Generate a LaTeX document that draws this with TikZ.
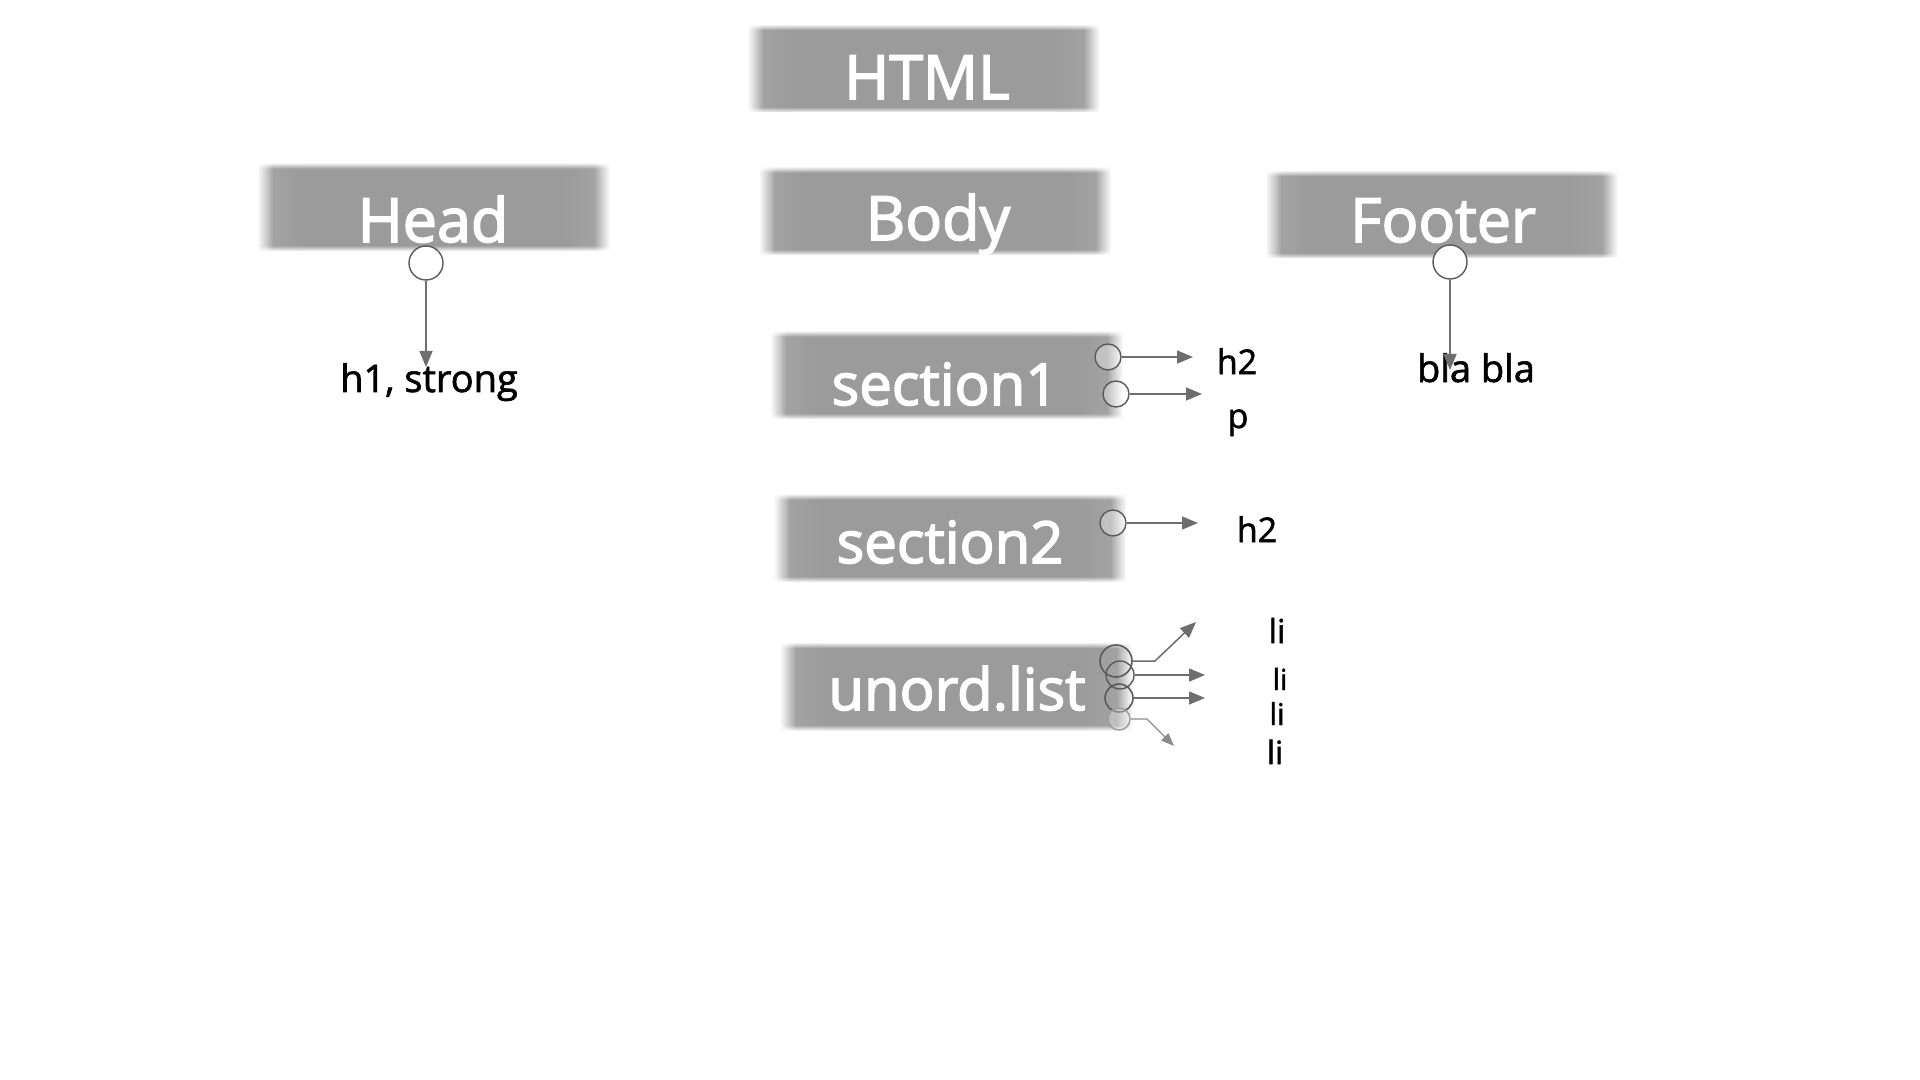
\documentclass[tikz,border=0pt]{standalone}
\usepackage{fontspec}
\setmainfont{Open Sans}
\newfontfamily\boxfont{Open Sans}[FakeBold=2.6]
\newfontfamily\tagfont{Open Sans}[FakeBold=1.6]
\usetikzlibrary{arrows.meta,fadings}
\tikzfading[name=myfaderight, left color=transparent!0, right color=transparent!100]
\tikzfading[name=myfadeleft, left color=transparent!100, right color=transparent!0]
\tikzfading[name=myfadedown, top color=transparent!0, bottom color=transparent!100]
\tikzfading[name=myfadeup, top color=transparent!100, bottom color=transparent!0]
\definecolor{boxgray}{HTML}{9B9B9B}
\definecolor{linegray}{HTML}{6E6E6E}
\definecolor{ringgray}{HTML}{5A5A5A}
\tikzset{
  boxbase/.style={rectangle, fill=boxgray, draw=none, inner sep=0pt,
    minimum width=176pt, minimum height=44pt},
  boxlabel/.style={anchor=base, text=white, inner sep=0pt,
    font=\boxfont\fontsize{30.5pt}{36pt}\selectfont},
  seclabel/.style={anchor=base, text=white, inner sep=0pt,
    font=\boxfont\fontsize{29pt}{34pt}\selectfont},
  tag/.style={anchor=base, text=black, inner sep=0pt},
  ring/.style={circle, draw=ringgray, line width=0.7pt, inner sep=0pt},
  conn/.style={draw=linegray, line width=0.75pt,
    -{Triangle[length=8pt,width=6.5pt]}},
}
\newcommand\softbox[3]{%
  \node[boxbase] (#1) at (#2,#3) {};
  \fill[white, path fading=myfaderight] (#1.north west) rectangle ([xshift=8pt]#1.south west);
  \fill[white, opacity=0.12, path fading=myfaderight] (#1.north west) rectangle ([xshift=24pt]#1.south west);
  \fill[white, path fading=myfadeleft] ([xshift=-8pt]#1.north east) rectangle (#1.south east);
  \fill[white, opacity=0.12, path fading=myfadeleft] ([xshift=-24pt]#1.north east) rectangle (#1.south east);
  \fill[white, path fading=myfadedown] (#1.north west) rectangle ([yshift=-3pt]#1.north east);
  \fill[white, path fading=myfadeup] ([yshift=3pt]#1.south west) rectangle (#1.south east);
}
\begin{document}
\begin{tikzpicture}[x=0.5pt, y=-0.5pt]
\useasboundingbox (0,0) rectangle (1920,1080);

% boxes
\softbox{html}{923.5}{68.5}
\softbox{body}{935}{211}
\softbox{head}{433.5}{207}
\softbox{footer}{1441.5}{214.5}
\softbox{secone}{946.5}{375}
\softbox{sectwo}{950}{538}
\softbox{ulist}{956}{686.5}

% box labels
\node[boxlabel] (htmltxt) at (927,99) {HTML};
\node[boxlabel] (bodytxt) at (938,240) {Body};
\node[boxlabel] (headtxt) at (433,242) {Head};
\node[boxlabel] (footertxt) at (1443,242) {Footer};
\node[seclabel] (seconetxt) at (945,405) {section1};
\node[seclabel] (sectwotxt) at (950,563) {section2};
\node[seclabel] (ulisttxt) at (957,710) {unord.list};

% text labels
\node[tag, font=\tagfont\fontsize{19pt}{23pt}\selectfont] (h1txt) at (429,392) {h1, strong};
\node[tag, font=\tagfont\fontsize{19pt}{23pt}\selectfont] (blatxt) at (1476,382) {bla bla};
\node[tag, font=\tagfont\fontsize{17pt}{21pt}\selectfont] (h2a) at (1237,374) {h2};
\node[tag, font=\tagfont\fontsize{17pt}{21pt}\selectfont] (ptxt) at (1238,428) {p};
\node[tag, font=\tagfont\fontsize{17pt}{21pt}\selectfont] (h2b) at (1257,542) {h2};
\node[tag, font=\tagfont\fontsize{16.5pt}{20pt}\selectfont] (lia) at (1277,643) {li};
\node[tag, font=\tagfont\fontsize{14.5pt}{18pt}\selectfont] (lib) at (1280,690) {li};
\node[tag, font=\tagfont\fontsize{15pt}{18pt}\selectfont] (lic) at (1277,725) {li};
\node[tag, font=\tagfont\fontsize{16pt}{19pt}\selectfont] (lid) at (1275,764) {li};

% rings
\node[ring, fill=white, minimum size=17pt] (headring) at (426,263) {};
\node[ring, fill=white, minimum size=17pt] (footring) at (1450,262) {};
\node[ring, fill=white, fill opacity=0.35, minimum size=13pt] (sonea) at (1108,357) {};
\node[ring, fill=white, fill opacity=0.35, minimum size=13pt] (soneb) at (1116,394) {};
\node[ring, fill=white, fill opacity=0.35, minimum size=13pt] (stwoa) at (1113,523) {};
\node[ring, line width=0.8pt, minimum size=16pt] (ula) at (1116,661) {};
\node[ring, minimum size=14pt] (ulb) at (1120,675) {};
\node[ring, line width=0.8pt, minimum size=14pt] (ulc) at (1119,698) {};
\node[ring, draw=ringgray!60, fill=white, fill opacity=0.3, minimum size=11pt] (uld) at (1119,719) {};

% free ends
\coordinate (headend) at (426,367);
\coordinate (footend) at (1450,370);
\coordinate (soneaend) at (1193,357);
\coordinate (sonebend) at (1202,394);
\coordinate (stwoaend) at (1198,523);
\coordinate (ulabend) at (1155,661);
\coordinate (ulaend) at (1196,622);
\coordinate (ulbend) at (1205,675);
\coordinate (ulcend) at (1205,698);
\coordinate (uldbend) at (1147,719);
\coordinate (uldend) at (1174,746);

% connectors
\draw[conn] (headring.south) -- (headend);
\draw[conn] (footring.south) -- (footend);
\draw[conn] (sonea.east) -- (soneaend);
\draw[conn] (soneb.east) -- (sonebend);
\draw[conn] (stwoa.east) -- (stwoaend);
\draw[conn] (ula.east) -- (ulabend) -- (ulaend);
\draw[conn] (ulb.east) -- (ulbend);
\draw[conn] (ulc.east) -- (ulcend);
\draw[conn, draw=linegray!80, line width=0.6pt, -{Triangle[length=6.5pt,width=5pt]}] (uld.east) -- (uldbend) -- (uldend);
\end{tikzpicture}
\end{document}
